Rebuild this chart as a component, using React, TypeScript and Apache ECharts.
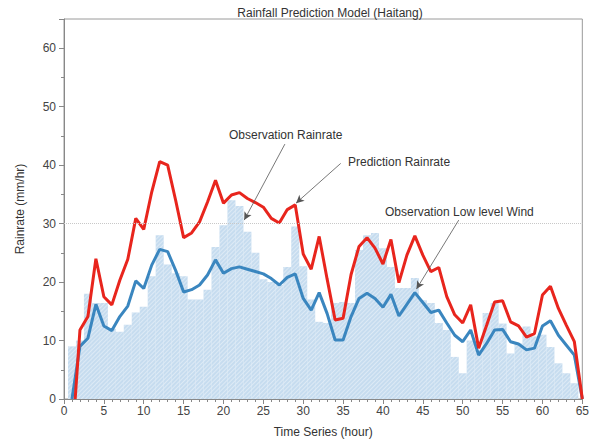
import React, { useEffect, useRef } from "react";
import * as echarts from "echarts";

const title = "Rainfall Prediction Model (Haitang)";
const xName = "Time Series (hour)";
const yName = "Rainrate (mm/hr)";

const obsHours = [1,2,3,4,5,6,7,8,9,10,11,12,13,14,15,16,17,18,19,20,21,22,23,24,25,26,27,28,29,30,31,32,33,34,35,36,37,38,39,40,41,42,43,44,45,46,47,48,49,50,51,52,53,54,55,56,57,58,59,60,61,62,63,64];
const obsRain = [9,10,18,16.4,16.4,12,11.5,12.7,14.8,15.8,21,28,23,21.5,21,17,17,18.7,26,29.7,34,33,28.6,25,20.5,20,19.5,22.6,29.5,22.7,17,13.2,13,16.4,16.6,16.4,25.5,28,28.4,25.8,22.6,19,19,20.7,16.9,16.4,13,11.8,7.2,4.4,10,8.4,14.7,16.4,12.9,7.8,9.5,12.4,10.7,11,8.9,6.1,4.4,2.7];

const windHours = [1,2,3,4,5,6,7,8,9,10,11,12,13,14,15,16,17,18,19,20,21,22,23,24,25,26,27,28,29,30,31,32,33,34,35,36,37,38,39,40,41,42,43,44,45,46,47,48,49,50,51,52,53,54,55,56,57,58,59,60,61,62,63,64,65];
const windVals = [0,9,10.4,16.2,12.5,11.7,14.1,15.9,20.2,18.9,22.9,25.6,25.2,22,18.3,18.7,19.5,21.2,23.8,21.5,22.3,22.6,22.2,21.8,21.4,20.6,19.5,20.8,21.4,17.2,15.2,18.2,14.6,10.1,10.1,14.1,17.2,18.1,17.2,15.7,17.9,14.2,16.2,18.2,16.5,14.8,15.2,13,10.9,9.8,11.8,7.5,9.5,11.8,11.9,9.8,9.4,8.4,8.7,12.5,13.4,10.9,9.2,7.5,0];

const predHours = [1.4,2,3,4,5,6,7,8,9,10,11,12,13,14,15,16,17,18,19,20,21,22,23,24,25,26,27,28,29,30,31,32,33,34,35,36,37,38,39,40,41,42,43,44,45,46,47,48,49,50,51,52,53,54,55,56,57,58,59,60,61,62,63,64,65];
const predVals = [0,11.8,14.1,24,17.5,16.1,20.3,23.9,30.9,29,35.4,40.6,40,34,27.6,28.4,30.3,33.7,37.4,33.5,34.9,35.3,34.3,33.6,32.8,30.9,30.1,32.4,33.2,24.8,22.2,27.8,20.5,13.5,13.8,21.3,26.1,27.6,25.8,23.1,27.3,19.9,24.6,27.9,24.6,21.8,22.5,17.5,14.4,13,16.1,8.7,12.6,16.6,16.8,13.2,12.5,10.6,11.2,17.8,19.3,15.5,12.6,9.8,0];

// annotation arrows: [fromHour, fromValue, toHour, toValue]
const arrowObsRain = [27.7, 43.6, 22.6, 30.6];
const arrowPred = [34.7, 40.3, 29.1, 33.5];
const arrowWind = [49.5, 30.6, 44.2, 18.8];

const FONT = "'Liberation Sans', Arial, Helvetica, sans-serif";

export default function App() {
  const ref = useRef<HTMLDivElement>(null);
  useEffect(() => {
    if (!ref.current) return;
    const chart = echarts.init(ref.current, null, { renderer: "svg" });
    const pair = (xs: number[], ys: number[]) => xs.map((x, i) => [x, ys[i]]);
    const arrow = (a: number[]) => [{ coord: [a[0], a[1]] }, { coord: [a[2], a[3]] }];
    chart.setOption({
      animation: false,
      backgroundColor: "#ffffff",
      textStyle: { fontFamily: FONT },
      title: {
        text: title,
        left: 325,
        textAlign: "center",
        top: 2,
        textStyle: { fontSize: 12, fontWeight: "normal", color: "#333", fontFamily: FONT },
      },
      grid: {
        left: 64,
        right: 6,
        top: 19,
        bottom: 44,
        show: true,
        borderColor: "#9a9a9a",
        borderWidth: 1,
        backgroundColor: "transparent",
      },
      xAxis: {
        type: "value",
        min: 0,
        max: 65,
        interval: 5,
        name: xName,
        nameLocation: "middle",
        nameGap: 27,
        nameTextStyle: { fontSize: 12, color: "#333" },
        axisLine: { show: true, onZero: false, lineStyle: { color: "#888" } },
        axisTick: { show: true, length: 5, lineStyle: { color: "#888" } },
        minorTick: { show: true, splitNumber: 5, length: 3, lineStyle: { color: "#888" } },
        axisLabel: { fontSize: 12, color: "#444", margin: 6 },
        splitLine: { show: false },
      },
      yAxis: {
        type: "value",
        min: 0,
        max: 65,
        interval: 10,
        name: yName,
        nameLocation: "middle",
        nameGap: 38,
        nameTextStyle: { fontSize: 12, color: "#333" },
        axisLine: { show: true, lineStyle: { color: "#888" } },
        axisTick: { show: true, length: 5, lineStyle: { color: "#888" } },
        minorTick: { show: true, splitNumber: 2, length: 3, lineStyle: { color: "#888" } },
        axisLabel: {
          fontSize: 12,
          color: "#444",
          margin: 8,
          formatter: (v: number) => (v > 60 ? "" : String(v)),
        },
        splitLine: { show: false },
      },
      series: [
        {
          name: "Observation Rainrate",
          type: "bar",
          data: pair(obsHours, obsRain),
          barWidth: 8,
          itemStyle: {
            color: "#c6dcef",
            decal: {
              symbol: "rect",
              dashArrayX: [1, 0],
              dashArrayY: [1, 2],
              rotation: -Math.PI / 4,
              color: "rgba(255,255,255,0.4)",
              symbolSize: 1,
            },
          },
          markLine: {
            silent: true,
            symbol: "none",
            label: { show: false },
            lineStyle: { color: "#c8c8c8", type: "dotted", width: 1 },
            data: [{ yAxis: 30 }],
          },
          z: 1,
        },
        {
          name: "Observation Low level Wind",
          type: "line",
          data: pair(windHours, windVals),
          showSymbol: false,
          symbol: "none",
          lineStyle: { color: "#3a86bf", width: 3 },
          z: 3,
        },
        {
          name: "Prediction Rainrate",
          type: "line",
          data: pair(predHours, predVals),
          showSymbol: false,
          symbol: "none",
          lineStyle: { color: "#e8251d", width: 3 },
          z: 4,
          markLine: {
            silent: true,
            symbol: ["none", "arrow"],
            symbolSize: [6, 8],
            label: { show: false },
            lineStyle: { color: "#555", type: "solid", width: 0.8 },
            data: [arrow(arrowObsRain), arrow(arrowPred), arrow(arrowWind)],
            z: 5,
          },
        },
      ],
      graphic: [
        {
          type: "text",
          left: 229,
          top: 129,
          style: { text: "Observation Rainrate", fontSize: 12, fill: "#333", fontFamily: FONT },
        },
        {
          type: "text",
          left: 348,
          top: 156,
          style: { text: "Prediction Rainrate", fontSize: 12, fill: "#333", fontFamily: FONT },
        },
        {
          type: "text",
          left: 385,
          top: 206,
          style: { text: "Observation Low level Wind", fontSize: 12, fill: "#333", fontFamily: FONT },
        },
      ],
    });
    return () => chart.dispose();
  }, []);
  return (
    <div
      ref={ref}
      style={{ position: "fixed", left: 0, top: 0, width: 592, height: 443 }}
    />
  );
}
